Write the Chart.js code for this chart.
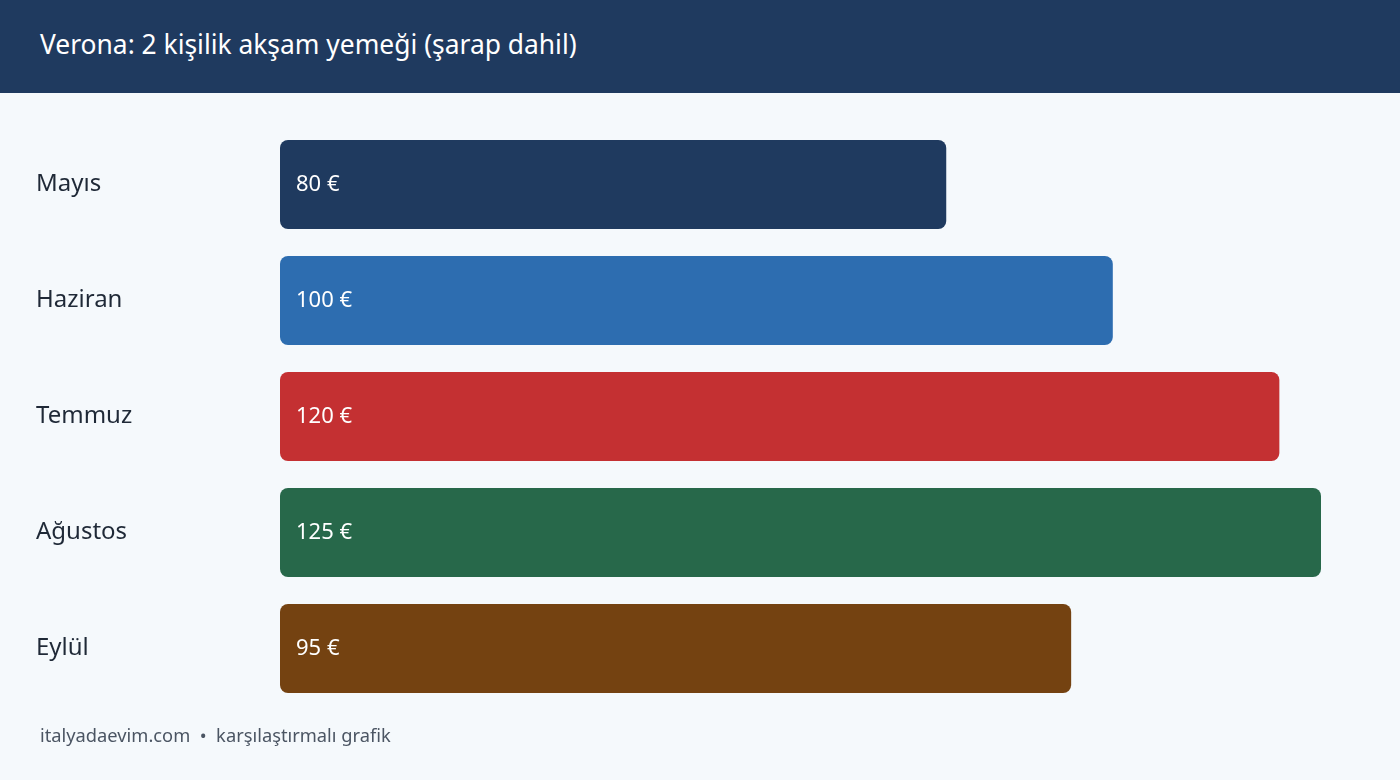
<!DOCTYPE html>
<html><head><meta charset="utf-8">
<script src="https://cdn.jsdelivr.net/npm/chart.js@4"></script>
<style>
html,body{margin:0;padding:0;width:1400px;height:780px;background:#f5f9fc;overflow:hidden;font-family:"Noto Sans",sans-serif;}
#hdr{position:absolute;left:0;top:0;width:1400px;height:93px;background:#1f3a5f;z-index:2;}
#hdr span{position:absolute;left:40px;top:25px;color:#fff;font-size:26.4px;line-height:38px;}
#ftr{position:absolute;left:40px;top:722px;color:#4b5563;font-size:18.3px;line-height:26px;z-index:2;}
#wrap{position:absolute;left:0;top:0;width:1400px;height:780px;}
</style></head><body>
<div id="hdr"><span>Verona: 2 kişilik akşam yemeği (şarap dahil)</span></div>
<div id="ftr">italyadaevim.com &nbsp;•&nbsp; karşılaştırmalı grafik</div>
<div id="wrap"><canvas id="c" width="1400" height="780"></canvas></div>
<script>
const months = ["Mayıs","Haziran","Temmuz","Ağustos","Eylül"];
const prices = [80,100,120,125,95];
const barColors = ["#1f3a5f","#2d6db0","#c43032","#27684a","#744211"];
const valueLabels = prices.map(v => v + " €");

const valuePlugin = {
  id:"vals",
  afterDatasetsDraw(chart){
    const ctx = chart.ctx;
    const meta = chart.getDatasetMeta(0);
    ctx.save();
    ctx.fillStyle = "#ffffff";
    ctx.font = '22px "Noto Sans"';
    ctx.textBaseline = "middle";
    ctx.textAlign = "left";
    meta.data.forEach((bar,i)=>{
      ctx.fillText(valueLabels[i], bar.base + 16, bar.y);
    });
    ctx.restore();
  }
};

new Chart(document.getElementById("c"),{
  type:"bar",
  data:{labels:months,datasets:[{data:prices,backgroundColor:barColors,borderRadius:8,borderSkipped:false,barPercentage:0.767,categoryPercentage:1}]},
  options:{
    indexAxis:"y",responsive:false,animation:false,devicePixelRatio:1,
    layout:{padding:{left:36,right:79,top:126.5,bottom:73.5}},
    plugins:{legend:{display:false},tooltip:{enabled:false}},
    scales:{
      x:{display:false,min:0,max:125},
      y:{
        grid:{display:false},border:{display:false},
        ticks:{color:"#1f2937",font:{family:"Noto Sans",size:24},crossAlign:"far",padding:0},
        afterFit(s){s.width=244;}
      }
    }
  },
  plugins:[valuePlugin]
});
</script>
</body></html>
